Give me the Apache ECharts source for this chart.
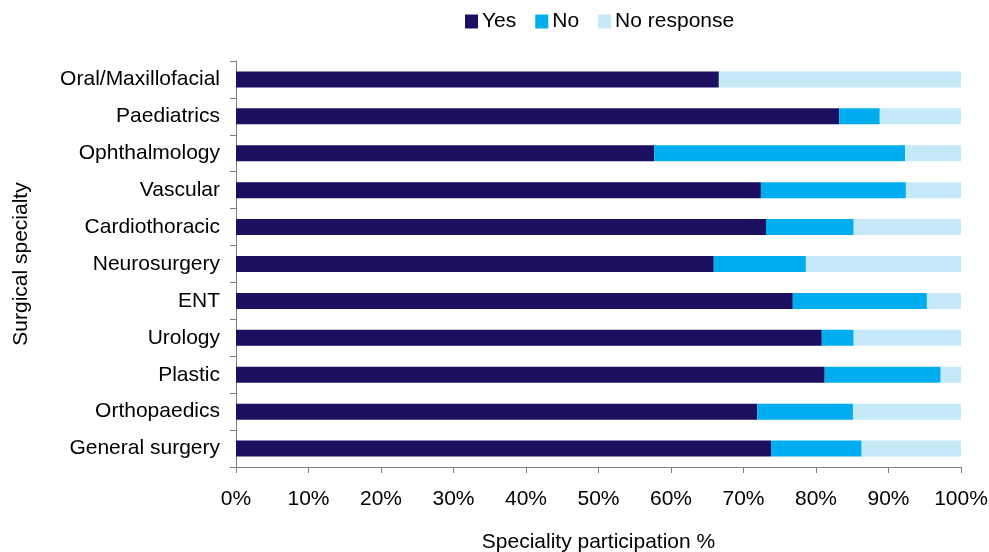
<!DOCTYPE html>
<html><head><meta charset="utf-8">
<script src="https://cdn.jsdelivr.net/npm/echarts@6/dist/echarts.min.js"></script>
<style>html,body{margin:0;padding:0;background:#fff}#c{width:989px;height:552px}</style>
</head><body><div id="c"></div>
<script>
const categories = ['General surgery','Orthopaedics','Plastic','Urology','ENT','Neurosurgery','Cardiothoracic','Vascular','Ophthalmology','Paediatrics','Oral/Maxillofacial'];
const yesValues = [73.8, 71.9, 81.2, 80.8, 76.8, 65.9, 73.1, 72.4, 57.7, 83.2, 66.6];
const noValues = [12.5, 13.2, 16.0, 4.4, 18.5, 12.7, 12.1, 20.0, 34.6, 5.6, 0];
const noResponseValues = [13.7, 14.9, 2.8, 14.8, 4.7, 21.4, 14.8, 7.6, 7.7, 11.2, 33.4];
const xTicks = [0,10,20,30,40,50,60,70,80,90,100];

const font = 'Liberation Sans, Arial, sans-serif';
const axisColor = '#7f7f7f';
const chart = echarts.init(document.getElementById('c'));
chart.setOption({
  animation: false,
  textStyle: {fontFamily: font},
  legend: {
    top: 6, left: 460,
    itemWidth: 13, itemHeight: 14, itemGap: 19,
    icon: 'rect',
    textStyle: {fontSize: 21, color: '#000', fontFamily: font, padding: [0,0,0,-1]},
    data: ['Yes','No','No response']
  },
  grid: {left: 236, right: 28, top: 61, bottom: 85, containLabel: false, outerBoundsMode: 'none'},
  xAxis: {
    type: 'value', min: 0, max: 100, interval: 10,
    axisLine: {show: true, lineStyle: {color: axisColor, width: 1}},
    axisTick: {show: true, length: 6, lineStyle: {color: axisColor}},
    splitLine: {show: false},
    axisLabel: {fontSize: 21, color: '#000', margin: 22, formatter: v => xTicks.includes(v) ? v + '%' : ''},
    name: 'Speciality participation %', nameLocation: 'middle', nameGap: 65,
    nameTextStyle: {fontSize: 21, color: '#000'}
  },
  yAxis: {
    type: 'category', data: categories,
    axisLine: {show: true, lineStyle: {color: axisColor}},
    axisTick: {show: true, length: 6, lineStyle: {color: axisColor}},
    axisLabel: {fontSize: 21, color: '#000', margin: 16},
    name: 'Surgical specialty', nameLocation: 'middle', nameGap: 204, nameRotate: 90,
    nameTextStyle: {fontSize: 21, color: '#000'}
  },
  series: [
    {name: 'Yes', type: 'bar', stack: 't', data: yesValues, barWidth: 16, itemStyle: {color: '#1B1060'}},
    {name: 'No', type: 'bar', stack: 't', data: noValues, barWidth: 16, itemStyle: {color: '#00AEEF'}},
    {name: 'No response', type: 'bar', stack: 't', data: noResponseValues, barWidth: 16, itemStyle: {color: '#C6E9F8'}}
  ]
});
</script></body></html>
